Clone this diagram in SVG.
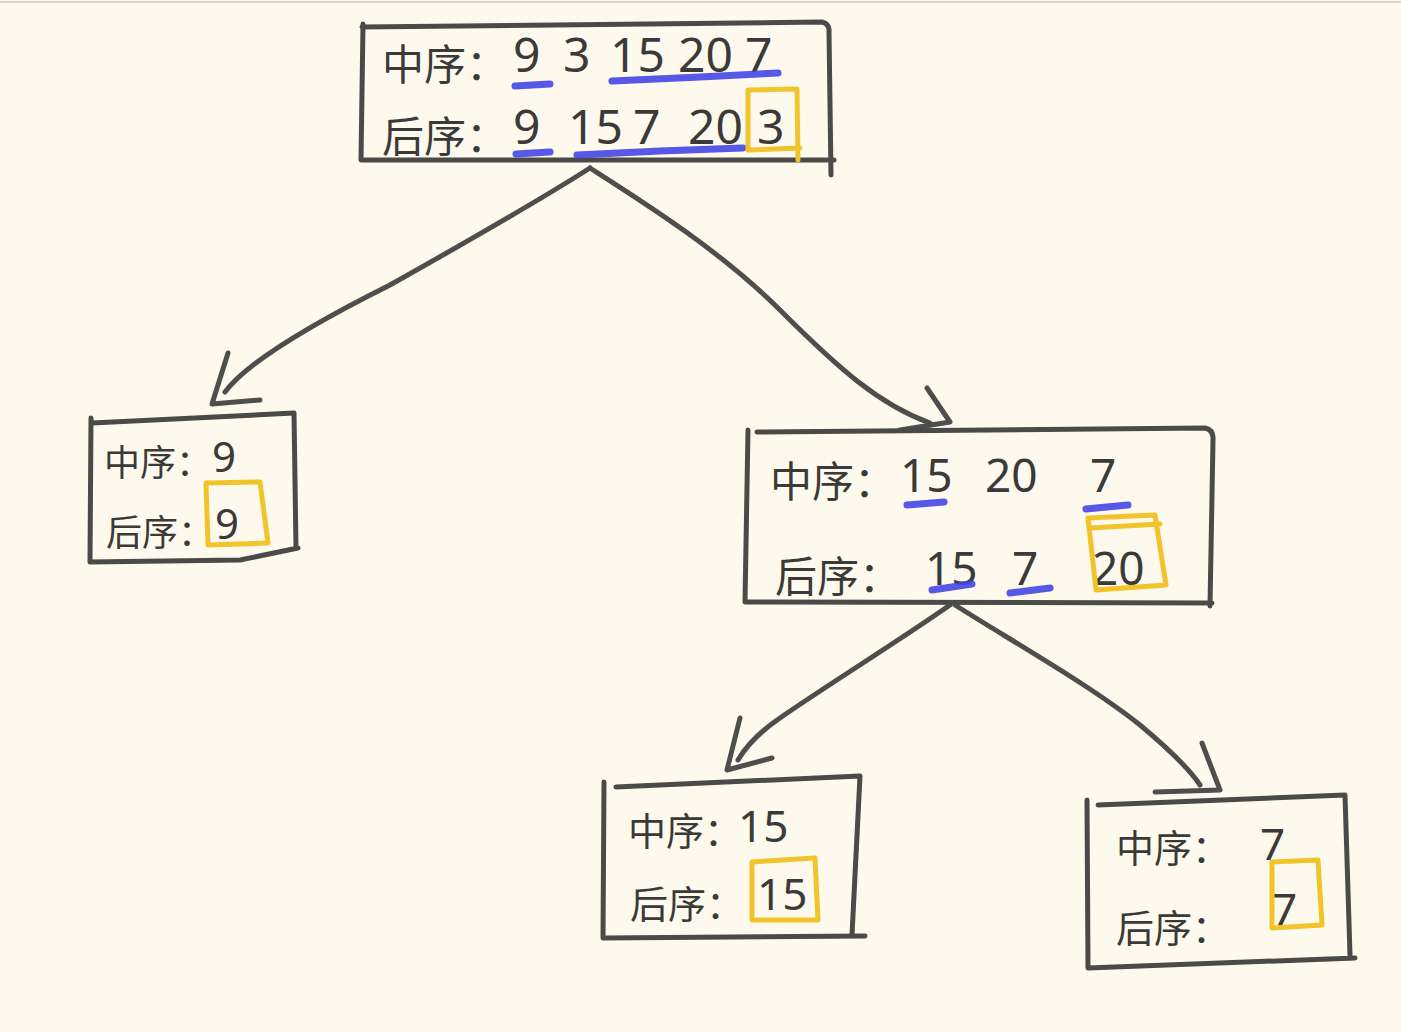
<svg xmlns="http://www.w3.org/2000/svg" width="1401" height="1032" viewBox="0 0 1401 1032">
<style>
.bg{fill:#fdf9ec}
.box{fill:none;stroke:#4a4a48;stroke-width:5;stroke-linecap:round;stroke-linejoin:round}
.conn{fill:none;stroke:#4e4e4c;stroke-width:5;stroke-linecap:round;stroke-linejoin:round}
.cjk{font-family:"Noto Sans CJK SC","Noto Sans",sans-serif;fill:#3a3a38}
.num{font-family:"Noto Sans","Liberation Sans",sans-serif;fill:#3a3a38}
.blue{fill:none;stroke:#4646e6;stroke-width:7;stroke-linecap:round;opacity:0.9}
.yel{fill:none;stroke:#f2c42c;stroke-width:5;stroke-linecap:round;stroke-linejoin:round}
</style>
<rect class="bg" x="0" y="0" width="1401" height="1032"/>
<line x1="0" y1="2" x2="1401" y2="2" stroke="#d8d6d0" stroke-width="2"/>

<g id="connectors">
  <path class="conn" d="M590,168 C540,200 470,240 390,285 C300,330 245,365 225,392"/>
  <path class="conn" d="M228,353 L212,404 L260,400"/>
  <path class="conn" d="M590,168 C640,200 720,250 780,310 C840,370 880,405 930,423"/>
  <path class="conn" d="M927,388 L950,422 L900,430"/>
  <path class="conn" d="M950,605 C900,640 820,690 780,718 C755,735 745,748 738,760"/>
  <path class="conn" d="M740,718 L727,770 L772,758"/>
  <path class="conn" d="M955,605 C1010,640 1090,685 1140,725 C1170,750 1190,770 1200,785"/>
  <path class="conn" d="M1202,743 L1220,790 L1155,792"/>
</g>

<g id="root">
  <path class="box" d="M362,27 L822,22 Q830,24 829,32 L831,175 M363,24 L361,160 L834,160"/>
  <text class="cjk" x="382" y="80" font-size="42">中序：</text>
  <text class="num" font-size="48" y="72"><tspan x="513">9</tspan><tspan x="563">3</tspan><tspan x="610">15</tspan><tspan x="678">20</tspan><tspan x="745">7</tspan></text>
  <text class="cjk" x="382" y="152" font-size="42">后序：</text>
  <text class="num" font-size="48" y="144"><tspan x="513">9</tspan><tspan x="568">15</tspan><tspan x="633">7</tspan><tspan x="688">20</tspan><tspan x="757">3</tspan></text>
  <path class="blue" d="M515,86 L550,84"/>
  <path class="blue" d="M612,81 L700,77 L778,73"/>
  <path class="blue" d="M516,154 L550,152"/>
  <path class="blue" d="M577,155 L660,151 L743,148"/>
  <path class="yel" d="M748,90 L797,89 L798,160 M748,90 L748,150 L800,148"/>
</g>

<g id="left9">
  <path class="box" d="M92,423 L294,413 L296,548 M91,418 L90,562 L240,560 L298,548"/>
  <text class="cjk" x="104" y="476" font-size="36">中序：</text>
  <text class="num" x="212" y="472" font-size="42">9</text>
  <text class="cjk" x="106" y="546" font-size="36">后序：</text>
  <text class="num" x="215" y="539" font-size="42">9</text>
  <path class="yel" d="M206,483 L260,482 L268,543 L208,545 Z"/>
</g>

<g id="right20">
  <path class="box" d="M757,432 L1205,428 Q1214,430 1213,440 L1210,606 M748,430 L745,602 L1212,603"/>
  <text class="cjk" x="770" y="497" font-size="42">中序：</text>
  <text class="num" font-size="46" y="492"><tspan x="900">15</tspan><tspan x="985">20</tspan><tspan x="1090">7</tspan></text>
  <text class="cjk" x="775" y="592" font-size="42">后序：</text>
  <text class="num" font-size="46" y="585"><tspan x="925">15</tspan><tspan x="1012">7</tspan><tspan x="1092">20</tspan></text>
  <path class="blue" d="M907,505 L944,502"/>
  <path class="blue" d="M1086,509 L1128,505"/>
  <path class="blue" d="M932,590 L972,584"/>
  <path class="blue" d="M1010,593 L1050,588"/>
  <path class="yel" d="M1088,518 L1155,515 L1166,585 L1096,590 Z M1090,528 L1160,524"/>
</g>

<g id="node15">
  <path class="box" d="M616,787 L860,776 L852,935 M604,782 L603,938 L865,936"/>
  <text class="cjk" x="628" y="845" font-size="38">中序：</text>
  <text class="num" x="738" y="842" font-size="44">15</text>
  <text class="cjk" x="630" y="918" font-size="38">后序：</text>
  <text class="num" x="757" y="910" font-size="44">15</text>
  <path class="yel" d="M752,862 L815,858 L818,920 L752,920 Z"/>
</g>

<g id="node7">
  <path class="box" d="M1098,805 L1345,795 L1350,955 M1087,800 L1088,968 L1355,958"/>
  <text class="cjk" x="1116" y="862" font-size="38">中序：</text>
  <text class="num" x="1260" y="860" font-size="44">7</text>
  <text class="cjk" x="1116" y="942" font-size="38">后序：</text>
  <text class="num" x="1272" y="925" font-size="44">7</text>
  <path class="yel" d="M1272,862 L1318,860 L1322,925 L1272,928 Z"/>
</g>
</svg>
